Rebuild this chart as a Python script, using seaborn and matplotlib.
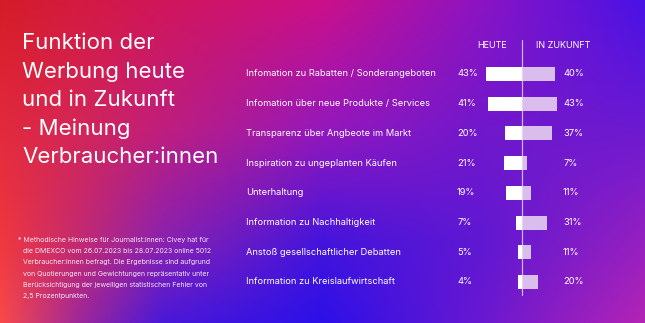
import numpy as np
import pandas as pd
import matplotlib
matplotlib.use("Agg")
import matplotlib.pyplot as plt
import seaborn as sns
from matplotlib.colors import to_rgb

# ---------------- data ----------------
categories = [
    "Infomation zu Rabatten / Sonderangeboten",
    "Infomation über neue Produkte / Services",
    "Transparenz über Angbeote im Markt",
    "Inspiration zu ungeplanten Käufen",
    "Unterhaltung",
    "Information zu Nachhaltigkeit",
    "Anstoß gesellschaftlicher Debatten",
    "Information zu Kreislaufwirtschaft",
]
heute = [43, 41, 20, 21, 19, 7, 5, 4]
zukunft = [40, 43, 37, 7, 11, 31, 11, 20]
header_left = "HEUTE"
header_right = "IN ZUKUNFT"
title_lines = ["Funktion der", "Werbung heute", "und in Zukunft", "- Meinung", "Verbraucher:innen"]
footnote_lines = [
    "* Methodische Hinweise für Journalist:innen: Civey hat für",
    "die DMEXCO vom 26.07.2023 bis 28.07.2023 online 5012",
    "Verbraucher:innen befragt. Die Ergebnisse sind aufgrund",
    "von Quotierungen und Gewichtungen repräsentativ unter",
    "Berücksichtigung der jeweiligen statistischen Fehler von",
    "2,5 Prozentpunkten.",
]

sns.set_theme(style="white")
plt.rcParams["font.family"] = ["Inter", "DejaVu Sans"]

W, H = 645, 323
fig = plt.figure(figsize=(W / 100, H / 100), dpi=100)

# ---------------- background gradient (styling) ----------------
gx = [0.0, 0.12, 0.25, 0.5, 0.75, 1.0]
gy = [0.0, 0.4, 0.75, 1.0]
grid_cols = [
    ["#d41c28", "#d41a40", "#d0165a", "#cc1088", "#8a14c4", "#4812e6"],
    ["#e22a3c", "#d42658", "#c01e7c", "#9418bc", "#7018cc", "#6c1ad0"],
    ["#f0383e", "#c42a70", "#8a22b0", "#4414dc", "#6018d2", "#9620c0"],
    ["#fa4a48", "#a02898", "#4a18d8", "#2c10e8", "#6a18d0", "#b424b4"],
]
grid = np.array([[to_rgb(c) for c in row] for row in grid_cols])
xs = np.linspace(0, 1, W)
ys = np.linspace(0, 1, H)
tmp = np.stack([np.stack([np.interp(xs, gx, grid[r, :, ch]) for ch in range(3)], -1)
                for r in range(len(gy))])  # (rows, W, 3)
img = np.empty((H, W, 3))
for ch in range(3):
    for j in range(W):
        img[:, j, ch] = np.interp(ys, gy, tmp[:, j, ch])
bg = fig.add_axes([0, 0, 1, 1], zorder=-10)
bg.imshow(img, extent=[0, 1, 1, 0], interpolation="bilinear", aspect="auto")
bg.set_xlim(0, 1)
bg.set_ylim(1, 0)
bg.axis("off")

# ---------------- title & footnote ----------------
for i, line in enumerate(title_lines):
    fig.text(22 / W, 1 - (43 + 28.5 * i) / H, line, color="white", fontsize=16,
             fontweight="normal", va="center", ha="left")
for i, line in enumerate(footnote_lines):
    x = 18 if i == 0 else 23
    fig.text(x / W, 1 - (240 + 11.2 * i) / H, line, color="#f4e4f4", fontsize=5,
             va="center", ha="left")

# ---------------- bars ----------------
px_left, px_right, px_top, px_bot = 240, 640, 30, 310
center_px, scale = 521.7, 0.82
row0, step = 74, 29.71
ax = fig.add_axes([px_left / W, 1 - px_bot / H, (px_right - px_left) / W, (px_bot - px_top) / H])
ax.patch.set_alpha(0)

df = pd.DataFrame({"cat": categories * 2,
                   "val": [-v for v in heute] + list(zukunft),
                   "grp": ["heute"] * len(heute) + ["zukunft"] * len(zukunft)})
sns.barplot(data=df, y="cat", x="val", hue="grp", orient="h", dodge=False,
            palette={"heute": "#ffffff", "zukunft": "#d9bdec"}, width=0.47,
            legend=False, ax=ax, saturation=1, linewidth=0, edgecolor="none")

ax.set_xlim((px_left - center_px) / scale, (px_right - center_px) / scale)
ax.set_ylim((px_bot - row0) / step, (px_top - row0) / step)
ax.plot([0, 0], [(40 - row0) / step, (295 - row0) / step], color="#e8d8f0", lw=0.9, alpha=0.8, zorder=5)

x_cat = (246 - center_px) / scale
x_lp = (457 - center_px) / scale
x_rp = (563 - center_px) / scale
for i, c in enumerate(categories):
    ax.text(x_cat, i, c, color="white", fontsize=6.7, va="center", ha="left")
    ax.text(x_lp, i, f"{heute[i]}%", color="white", fontsize=6.7, va="center", ha="left")
    ax.text(x_rp, i, f"{zukunft[i]}%", color="white", fontsize=6.7, va="center", ha="left")

y_head = (45 - row0) / step
ax.text((491.7 - center_px) / scale, y_head, header_left, color="white", fontsize=6.5, ha="center", va="center")
ax.text((563 - center_px) / scale, y_head, header_right, color="white", fontsize=6.5, ha="center", va="center")

ax.set_xlabel("")
ax.set_ylabel("")
ax.set_xticks([])
ax.set_yticks([])
for s in ax.spines.values():
    s.set_visible(False)

fig.savefig("out.png", dpi=100)
